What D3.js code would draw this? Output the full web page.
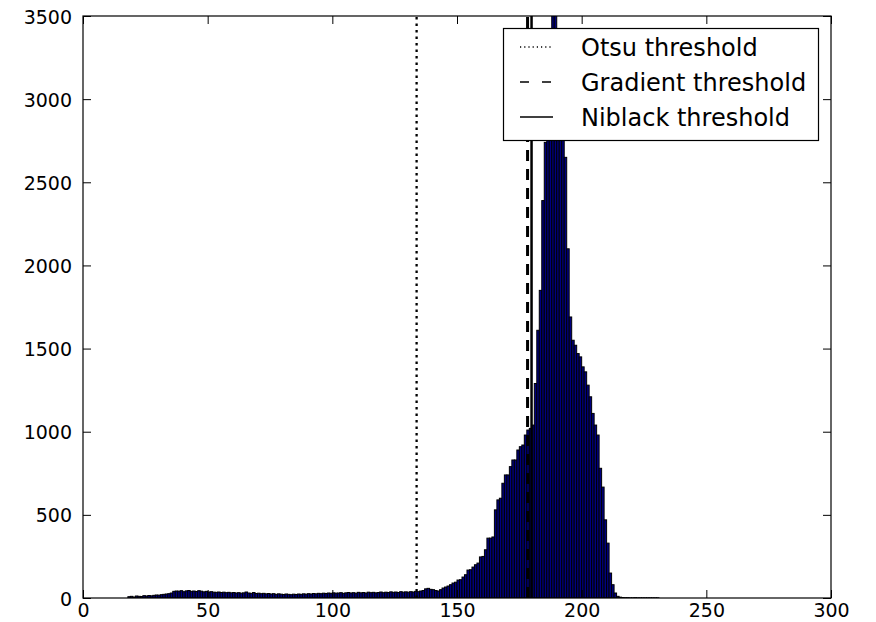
<!DOCTYPE html>
<html>
<head>
<meta charset="utf-8">
<script src="https://cdn.jsdelivr.net/npm/d3@7"></script>
<style>
  html, body { margin: 0; padding: 0; background: #fff; }
  svg { display: block; }
  text { font-family: "DejaVu Sans", sans-serif; fill: #000; }
</style>
</head>
<body>
<svg id="chart" width="876" height="622"></svg>
<script>
// ---- data ----
const firstBin = 18;   // intensity of the first histogram bin (bin width = 1)
const counts = [
  // 18-35
  8,10,6,12,10,9,14,12,15,13,16,18,17,20,22,24,26,30,
  // 36-60
  40,42,41,44,38,43,45,40,42,39,44,41,37,40,36,38,35,34,36,33,35,32,34,31,33,
  // 61-90
  30,32,29,31,36,30,28,33,27,29,26,28,25,27,24,26,22,25,23,21,24,22,20,23,21,24,22,25,23,26,
  // 91-129
  24,27,25,28,26,29,27,30,28,31,29,30,32,28,31,33,30,32,29,34,31,33,30,35,32,34,31,33,36,32,35,33,37,34,36,33,38,35,37,
  // 130-143
  35,38,36,40,38,42,45,55,58,52,50,45,42,50,
  // 144-164
  60,66,72,80,90,95,108,110,126,140,168,170,186,200,210,247,250,290,360,360,367,
  // 165-185
  530,590,600,690,740,740,790,830,830,890,910,920,980,1010,1020,1040,1290,1610,1850,2390,2740,
  // 186-215
  3100,3350,3900,3800,3300,3150,2950,2650,2100,1690,1550,1520,1470,1450,1390,1360,1280,1210,1110,1040,980,780,667,470,330,150,80,30,10,5,
  // 216-230
  3,2,2,1,1,2,1,1,1,1,1,1,1,1,1
];
const thresholdNames = ["Otsu threshold", "Gradient threshold", "Niblack threshold"];
const thresholdValues = [133.8, 178.3, 179.9];
const thresholdStyles = ["dotted", "dashed", "solid"];
const xTicks = [0, 50, 100, 150, 200, 250, 300];
const yTicks = [0, 500, 1000, 1500, 2000, 2500, 3000, 3500];

// ---- layout ----
const svg = d3.select("#chart");
const L = 83, R = 831, T = 16, B = 598;
const x = d3.scaleLinear().domain([0, 300]).range([L, R]);
const y = d3.scaleLinear().domain([0, 3500]).range([B, T]);

const bins = counts.map((c, i) => ({ lo: firstBin + i, hi: firstBin + i + 1, c }));

svg.append("defs").append("clipPath").attr("id", "plotclip")
  .append("rect").attr("x", L).attr("y", T).attr("width", R - L).attr("height", B - T);

const plot = svg.append("g").attr("clip-path", "url(#plotclip)");

// histogram bars
plot.append("g").selectAll("rect").data(bins.filter(d => d.c > 0)).join("rect")
  .attr("x", d => x(d.lo))
  .attr("width", d => x(d.hi) - x(d.lo))
  .attr("y", d => y(d.c))
  .attr("height", d => y(0) - y(d.c))
  .attr("fill", "#000080")
  .attr("stroke", "#000")
  .attr("stroke-width", 1);

// threshold lines
const styleMap = {
  dotted: { w: 2.3, dash: "2.5,4" },
  dashed: { w: 3, dash: "11,8" },
  solid:  { w: 2.5, dash: null }
};
plot.append("g").selectAll("line").data(thresholdValues).join("line")
  .attr("x1", d => x(d)).attr("x2", d => x(d))
  .attr("y1", B).attr("y2", T)
  .attr("stroke", "#000")
  .attr("stroke-width", (d, i) => styleMap[thresholdStyles[i]].w)
  .attr("stroke-dasharray", (d, i) => styleMap[thresholdStyles[i]].dash);

// axes (inward ticks on all four sides, classic style)
const tickLen = 8;
const axB = svg.append("g").attr("transform", `translate(0,${B})`)
  .call(d3.axisBottom(x).tickValues(xTicks).tickSize(-tickLen).tickPadding(0).tickFormat(d3.format("d")));
const axT = svg.append("g").attr("transform", `translate(0,${T})`)
  .call(d3.axisTop(x).tickValues(xTicks).tickSize(-tickLen).tickFormat(""));
const axL = svg.append("g").attr("transform", `translate(${L},0)`)
  .call(d3.axisLeft(y).tickValues(yTicks).tickSize(-tickLen).tickFormat(d3.format("d")));
const axR = svg.append("g").attr("transform", `translate(${R},0)`)
  .call(d3.axisRight(y).tickValues(yTicks).tickSize(-tickLen).tickFormat(""));

[axB, axT, axL, axR].forEach(a => {
  a.select(".domain").remove();
  a.selectAll(".tick line").attr("stroke", "#000").attr("stroke-width", 1);
});
axB.selectAll(".tick text")
  .attr("font-family", "DejaVu Sans").attr("font-size", 19)
  .attr("fill", "#000").attr("y", 19).attr("dy", 0)
  .style("dominant-baseline", "alphabetic");
axL.selectAll(".tick text")
  .attr("font-family", "DejaVu Sans").attr("font-size", 19)
  .attr("fill", "#000").attr("x", -11).attr("dy", 7);

// frame
svg.append("rect").attr("x", L).attr("y", T).attr("width", R - L).attr("height", B - T)
  .attr("fill", "none").attr("stroke", "#000").attr("stroke-width", 1.2);

// legend
const lg = svg.append("g");
lg.append("rect").attr("x", 503.5).attr("y", 28.5).attr("width", 315).attr("height", 112)
  .attr("fill", "#fff").attr("stroke", "#000").attr("stroke-width", 1.2);
const rowY = [47, 82, 117];
thresholdNames.forEach((name, i) => {
  lg.append("line").attr("x1", 520).attr("x2", 553).attr("y1", rowY[i]).attr("y2", rowY[i])
    .attr("stroke", "#000").attr("stroke-width", 1.4)
    .attr("stroke-dasharray", thresholdStyles[i] === "dotted" ? "1.2,3" :
                              thresholdStyles[i] === "dashed" ? "9,13" : null);
  lg.append("text").attr("x", 581).attr("y", rowY[i] + 9)
    .attr("font-size", 24).text(name);
});
</script>
</body>
</html>
